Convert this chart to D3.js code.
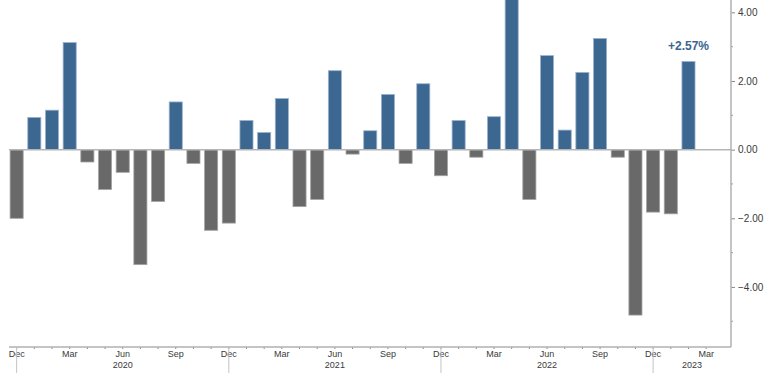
<!DOCTYPE html>
<html>
<head>
<meta charset="utf-8">
<script src="https://cdn.jsdelivr.net/npm/d3@7"></script>
<style>
  body { margin: 0; background: #fff; }
  svg { display: block; font-family: "Liberation Sans", Arial, sans-serif; }
</style>
</head>
<body>
<svg width="768" height="373"></svg>
<script>
const width = 768;
const height = 373;

// monthly change, Dec 2019 .. Feb 2023
const months = [
  "2019-12", "2020-01", "2020-02", "2020-03", "2020-04", "2020-05", "2020-06",
  "2020-07", "2020-08", "2020-09", "2020-10", "2020-11", "2020-12", "2021-01",
  "2021-02", "2021-03", "2021-04", "2021-05", "2021-06", "2021-07", "2021-08",
  "2021-09", "2021-10", "2021-11", "2021-12", "2022-01", "2022-02", "2022-03",
  "2022-04", "2022-05", "2022-06", "2022-07", "2022-08", "2022-09", "2022-10",
  "2022-11", "2022-12", "2023-01", "2023-02", "2023-03"
];
const values = [
  -2.00, 0.94, 1.15, 3.12, -0.36, -1.16, -0.66,
  -3.35, -1.51, 1.39, -0.40, -2.35, -2.14, 0.85,
  0.50, 1.49, -1.66, -1.45, 2.30, -0.13, 0.55,
  1.61, -0.40, 1.92, -0.76, 0.85, -0.22, 0.96,
  4.45, -1.45, 2.74, 0.57, 2.25, 3.24, -0.22,
  -4.82, -1.82, -1.87, 2.57
];
const monthLabels = { "12": "Dec", "03": "Mar", "06": "Jun", "09": "Sep" };
const yTicks = [-4, -2, 0, 2, 4];
const yMinor = [-5, -3, -1, 1, 3];
const lastLabel = "+2.57%";

const axisRight = 731;
const axisBottom = 347;
const plotLeft = 9;

const data = values.map((v, i) => ({ month: months[i], value: v }));

const x = d3.scaleBand()
  .domain(months)
  .range([7.8, 7.8 + months.length * 17.68])
  .paddingInner(0.26)
  .paddingOuter(0.13);

const y = d3.scaleLinear().domain([-5.75, 4.36]).range([axisBottom, 0]);

const svg = d3.select("svg");

svg.append("clipPath").attr("id", "plot")
  .append("rect").attr("x", 0).attr("y", 0).attr("width", axisRight).attr("height", axisBottom);

const cx = (m) => x(m) + x.bandwidth() / 2;

// bars
svg.append("g")
  .attr("clip-path", "url(#plot)")
  .selectAll("rect")
  .data(data)
  .join("rect")
  .attr("x", (d) => x(d.month))
  .attr("width", x.bandwidth())
  .attr("y", (d) => y(Math.max(0, d.value)))
  .attr("height", (d) => Math.abs(y(d.value) - y(0)))
  .attr("fill", (d) => (d.value >= 0 ? "#3c6790" : "#696969"))
  .attr("stroke", (d) => (d.value >= 0 ? "#9bb3cf" : "#a3a3a3"))
  .attr("stroke-width", 0.8);

// zero line
svg.append("line")
  .attr("x1", plotLeft).attr("x2", axisRight)
  .attr("y1", y(0)).attr("y2", y(0))
  .attr("stroke", "#b5b5b5").attr("stroke-width", 1.5);

// last value label
const last = data[data.length - 1];
svg.append("text")
  .attr("x", cx(last.month))
  .attr("y", y(last.value) - 11)
  .attr("text-anchor", "middle")
  .attr("font-size", 12)
  .attr("font-weight", "bold")
  .attr("fill", "#3a6591")
  .text(lastLabel);

// right axis
const yAxis = svg.append("g")
  .attr("transform", `translate(${axisRight},0)`)
  .call(d3.axisRight(y).tickValues(yTicks).tickFormat(d3.format(".2f")).tickSize(4).tickPadding(3));
yAxis.select(".domain").remove();
yAxis.selectAll(".tick line").attr("stroke", "#8a8a8a");
yAxis.selectAll(".tick text")
  .attr("font-family", "Liberation Sans, Arial, sans-serif")
  .attr("font-size", 10).attr("fill", "#3a3a3a");
yAxis.selectAll(".minor")
  .data(yMinor)
  .join("line")
  .attr("class", "minor")
  .attr("x1", 0).attr("x2", 2)
  .attr("y1", (d) => y(d)).attr("y2", (d) => y(d))
  .attr("stroke", "#9a9a9a");

svg.append("line")
  .attr("x1", axisRight).attr("x2", axisRight)
  .attr("y1", 0).attr("y2", axisBottom)
  .attr("stroke", "#b0b0b0").attr("stroke-width", 1.5);

// bottom axis
const xAxis = svg.append("g")
  .attr("transform", `translate(0,${axisBottom})`)
  .call(d3.axisBottom(x).tickSize(2).tickFormat((m) => monthLabels[m.slice(5)] || ""));
xAxis.select(".domain").remove();
xAxis.selectAll(".tick line").attr("stroke", "#8a8a8a");
xAxis.selectAll(".tick text")
  .attr("font-family", "Liberation Sans, Arial, sans-serif")
  .attr("font-size", 9).attr("fill", "#3a3a3a").attr("dy", "0.55em");

svg.append("line")
  .attr("x1", plotLeft).attr("x2", axisRight)
  .attr("y1", axisBottom).attr("y2", axisBottom)
  .attr("stroke", "#b0b0b0").attr("stroke-width", 1.5);

// year separators and year labels
const decs = months.filter((m) => m.endsWith("-12"));
svg.append("g")
  .selectAll("line")
  .data(decs)
  .join("line")
  .attr("x1", (m) => cx(m)).attr("x2", (m) => cx(m))
  .attr("y1", axisBottom).attr("y2", height)
  .attr("stroke", "#c4c4c4").attr("stroke-width", 1);

const bounds = decs.map((m) => cx(m)).concat([axisRight]);
const years = decs.map((m) => String(+m.slice(0, 4) + 1));
svg.append("g")
  .selectAll("text")
  .data(years)
  .join("text")
  .attr("x", (d, i) => (bounds[i] + bounds[i + 1]) / 2)
  .attr("y", 368)
  .attr("text-anchor", "middle")
  .attr("font-size", 9)
  .attr("fill", "#3a3a3a")
  .text((d) => d);
</script>
</body>
</html>
